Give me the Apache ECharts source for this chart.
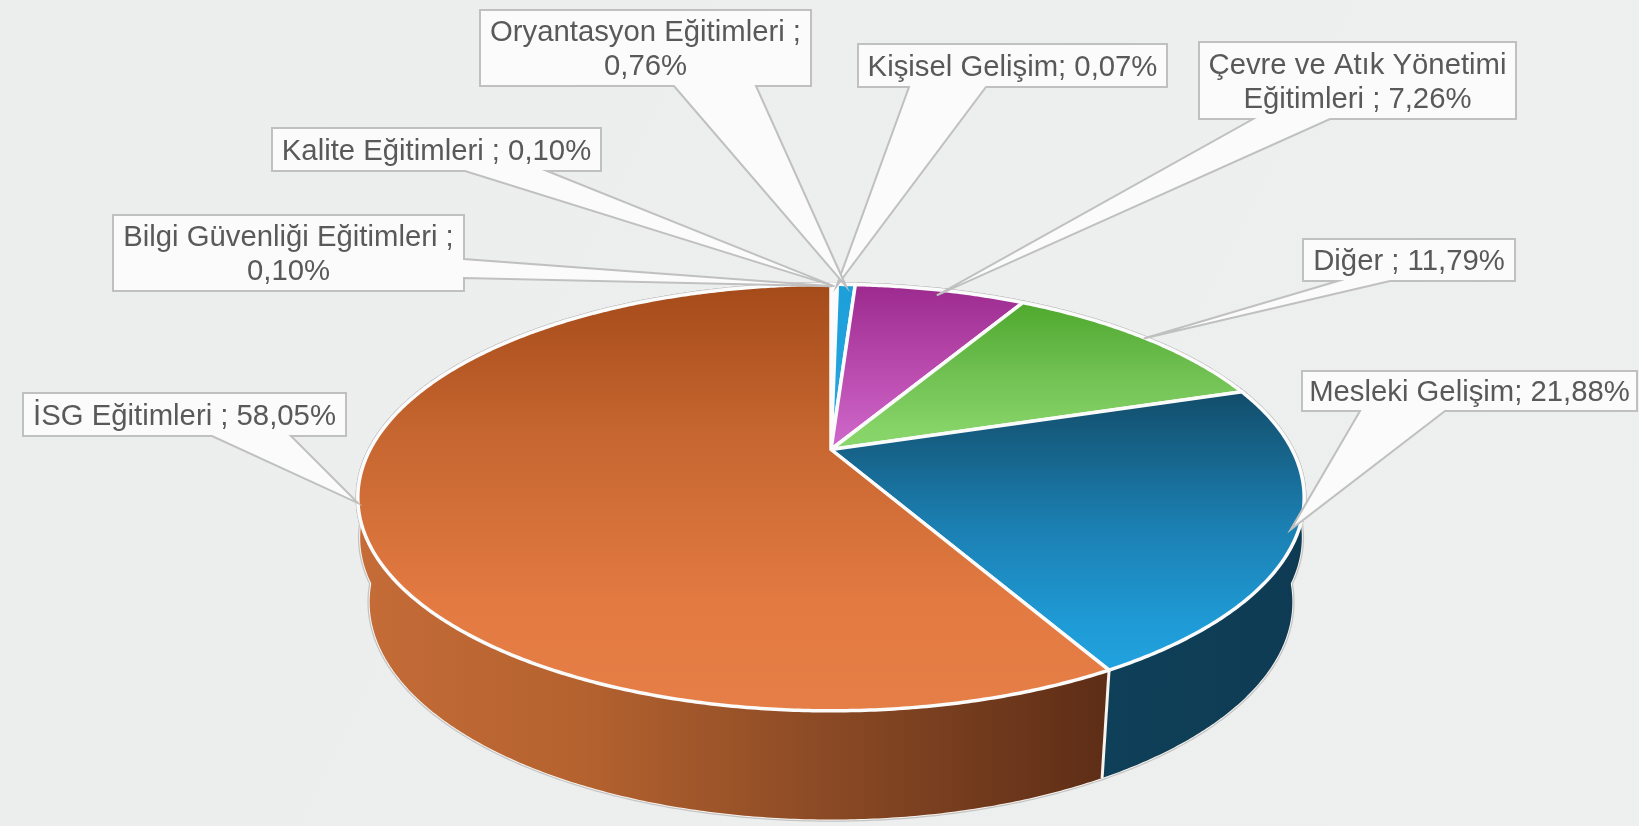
<!DOCTYPE html>
<html><head><meta charset="utf-8">
<style>html,body{margin:0;padding:0;background:#edeeee;}#c{width:1639px;height:826px;}</style>
<script src="https://cdn.jsdelivr.net/npm/echarts@6/dist/echarts.min.js"></script>
</head><body><div id="c"></div>
<script>
// Data: clockwise from 12 o'clock
const categories = ['Bilgi Güvenliği Eğitimleri','Kalite Eğitimleri','Kişisel Gelişim','Oryantasyon Eğitimleri','Çevre ve Atık Yönetimi Eğitimleri','Diğer','Mesleki Gelişim','İSG Eğitimleri'];
const values = [0.10,0.10,0.07,0.76,7.26,11.79,21.88,58.05];
const labelTexts = ['Bilgi Güvenliği Eğitimleri ;\n0,10%','Kalite Eğitimleri ; 0,10%','Kişisel Gelişim; 0,07%','Oryantasyon Eğitimleri ;\n0,76%','Çevre ve Atık Yönetimi\nEğitimleri ; 7,26%','Diğer ; 11,79%','Mesleki Gelişim; 21,88%','İSG Eğitimleri ; 58,05%'];

// Styles and layout
const white = [[0,'#fff'],[1,'#fff']];
const topStops = [white,white,white,
 [[0,'#1c9fda'],[1,'#2aa6de']],
 [[0,'#9c2a8e'],[0.55,'#bb4cb0'],[1,'#d06acc']],
 [[0,'#4ea82d'],[0.5,'#71c153'],[0.85,'#86d368'],[1,'#8ad66c']],
 [[0,'#124c69'],[0.47,'#1b7eb0'],[0.85,'#1f9cd8'],[1,'#21a2de']],
 [[0,'#a44a19'],[0.34,'#c5652f'],[0.74,'#e27a42'],[1,'#e67f47']]];
const wallStops = {dark:[[0,'#0f4059'],[1,'#0e3b53']],orange:[[0,'#c56c38'],[0.3,'#b4622f'],[0.62,'#8b4a25'],[1,'#5d2d16']]};
const boxes = [
 {x:113,y:215,w:351,h:76,side:'r',b:[259,278],tip:0.985},
 {x:272,y:128,w:329,h:43,side:'b',b:[465,547],tip:0.985},
 {x:858,y:44,w:309,h:43,side:'b',b:[909,986],tip:0.985},
 {x:480,y:10,w:331,h:76,side:'b',b:[674,756],tip:0.985},
 {x:1199,y:42,w:317,h:77,side:'b',b:[1253,1330],tip:0.96},
 {x:1303,y:239,w:212,h:42,side:'b',b:[1338,1390],tip:0.995},
 {x:1302,y:371,w:335,h:40,side:'b',b:[1360,1445],tip:0.985},
 {x:23,y:393,w:323,h:43,side:'b',b:[212,291],tip:1.0}
];
const FONT = '29.3px "Liberation Sans", Arial, sans-serif';
const P = {cx:831,cy:449.5,R:461,Rs:202.4,k:0.2254, bx:0.975,by:1.02,cy2:553, mx:0.995,mShift:40};
const total = values.reduce((a,b)=>a+b,0);
let acc = 0;
const slices = values.map(v=>{const a=acc/total*Math.PI*2; acc+=v; return {a0:a,a1:acc/total*Math.PI*2};});

function proj(a,r){ // top face
  const s=Math.sin(a),c=Math.cos(a),d=1+P.k*c*r;
  return [P.cx+P.R*s*r/d, P.cy-P.Rs*c*r/d];
}
function projM(a){ // shoulder ring of the wall
  const s=Math.sin(a),c=Math.cos(a),d=1+P.k*c;
  return [P.cx+P.mx*P.R*s/d, P.cy+P.mShift-P.Rs*c/d];
}
function projB(a){ // bottom ring of the wall
  const s=Math.sin(a),c=Math.cos(a),d=1+P.k*c;
  return [P.cx+P.bx*P.R*s/d, P.cy2-P.by*P.Rs*c/d];
}
function arc(f,a0,a1){
  const n=Math.max(2,Math.ceil(Math.abs(a1-a0)/0.008)),pts=[];
  for(let i=0;i<=n;i++)pts.push(f(a0+(a1-a0)*i/n));
  return pts;
}
function topPts(i){const s=slices[i];return [[P.cx,P.cy]].concat(arc(a=>proj(a,1),s.a0,s.a1));}
function wallPts(i){const s=slices[i];return arc(a=>proj(a,1),s.a0,s.a1).concat(arc(projB,s.a1,s.a0));}
function shoulderPts(i){const s=slices[i];return arc(a=>proj(a,1),s.a0,s.a1).concat(arc(projM,s.a1,s.a0));}
function grad(x2,y2,stops){return new echarts.graphic.LinearGradient(0,0,x2,y2,stops.map(t=>({offset:t[0],color:t[1]})));}

function calloutPts(i){
  const b=boxes[i],s=slices[i],t=proj((s.a0+s.a1)/2,b.tip);
  const R=b.x+b.w,B=b.y+b.h;
  if(b.side==='r') return [[b.x,b.y],[R,b.y],[R,b.b[0]],t,[R,b.b[1]],[R,B],[b.x,B]];
  return [[b.x,b.y],[R,b.y],[R,B],[b.b[1],B],t,[b.b[0],B],[b.x,B]];
}
const rows = values.map((v,i)=>({name:categories[i],value:v}));
function base(renderItem,z){return {type:'custom',coordinateSystem:'none',data:rows,renderItem:renderItem,z:z,silent:true,clip:false,animation:false};}
function outline(i,color,w){return {type:'group',children:[wallPts(i),shoulderPts(i),topPts(i)].map(pts=>({type:'polygon',shape:{points:pts},style:{fill:'none',stroke:color,lineWidth:w}}))};}
function wallFill(i){return i===7?grad(1,0,wallStops.orange):grad(1,0,wallStops.dark);}

const option = {
 animation:false,
 backgroundColor:new echarts.graphic.LinearGradient(0,0,1,1,[{offset:0,color:'#eceeee'},{offset:1,color:'#eeefef'}]),
 series:[
  base(p=>outline(p.dataIndex,'#c4c4c4',4.5),1),
  base(p=>outline(p.dataIndex,'#f7f3ee',2),2),
  base(p=>{const i=p.dataIndex,s=slices[i];
     const seamA=proj(s.a0,1),seamB=projB(s.a0);
     return {type:'group',children:[
       {type:'polygon',z2:1,shape:{points:wallPts(i)},style:{fill:wallFill(i)}},
       {type:'polygon',z2:1,shape:{points:shoulderPts(i)},style:{fill:wallFill(i)}},
       {type:'line',z2:5,shape:{x1:seamA[0],y1:seamA[1],x2:seamB[0],y2:seamB[1]},style:{stroke:'#f7f3ee',lineWidth:3}}
     ]};},3),
  base(p=>{const i=p.dataIndex;
     return {type:'polygon',shape:{points:topPts(i)},style:{fill:grad(0,1,topStops[i]),stroke:'#fbfbfb',lineWidth:3.5,lineJoin:'round'}};},4),
  base(p=>{const i=p.dataIndex,b=boxes[i];
     return {type:'group',children:[
       {type:'polygon',z2:i*2,shape:{points:calloutPts(i)},style:{fill:'#fbfbfb',stroke:'#c0c0c0',lineWidth:2,lineJoin:'miter'}},
       {type:'text',z2:i*2+1,style:{x:b.x+b.w/2,y:b.y+b.h/2+2,text:labelTexts[i],fill:'#595959',font:FONT,lineHeight:34,align:'center',verticalAlign:'middle'}}
     ]};},5)
 ]
};
const chart = echarts.init(document.getElementById('c'),null,{renderer:'canvas',width:1639,height:826});
chart.setOption(option);
</script></body></html>
